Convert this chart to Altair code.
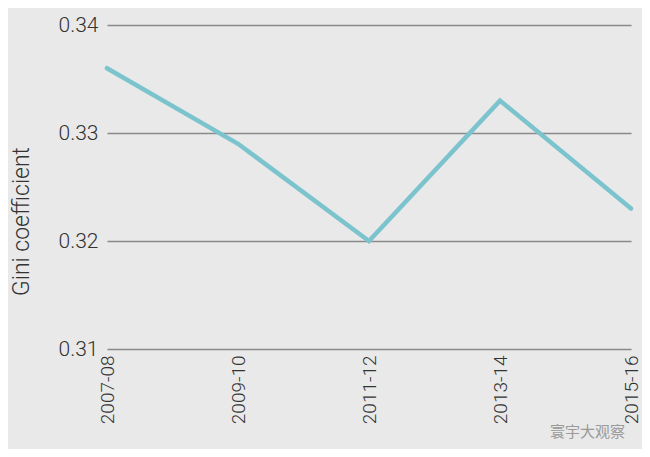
import altair as alt
import pandas as pd

periods = ["2007-08", "2009-10", "2011-12", "2013-14", "2015-16"]
gini = [0.336, 0.329, 0.320, 0.333, 0.323]
y_ticks = [0.31, 0.32, 0.33, 0.34]

df = pd.DataFrame({"period": periods, "gini": gini})

FONT = "Roboto"

line = alt.Chart(df).mark_line(color="#7cc4cd", strokeWidth=4.5, strokeCap="round", strokeJoin="miter").encode(
    x=alt.X("period:N", sort=periods,
            scale=alt.Scale(type="point", padding=0),
            axis=alt.Axis(title=None, labelAngle=-90, labelPadding=6, ticks=False, domain=False,
                          grid=False, labelFontSize=19, labelFont=FONT, labelFontWeight=300,
                          labelColor="#333333")),
    y=alt.Y("gini:Q", scale=alt.Scale(domain=[0.31, 0.34], zero=False, nice=False),
            axis=alt.Axis(title="Gini coefficient", values=y_ticks, format=".2f",
                          ticks=False, domain=False, grid=True, gridColor="#8a8a8a", gridWidth=1.5,
                          labelFontSize=21, labelFont=FONT, labelFontWeight=300, labelColor="#333333",
                          labelPadding=9,
                          titleFontSize=23, titleFont=FONT, titleFontWeight=300, titleColor="#333333",
                          titleX=-86, titleY=196, titleAlign="center", titleBaseline="middle")),
)

chart = line.properties(
    width=524, height=324,
    autosize=alt.AutoSizeParams(type="none"),
    padding={"left": 99, "top": 17, "right": 11, "bottom": 100},
    background="#e9e9e9",
    title=alt.TitleParams("寰宇大观察", orient="bottom", anchor="end", frame="group",
                          font="Noto Sans CJK SC", fontSize=15, fontWeight="normal",
                          color="#9a9a9a", offset=1, dx=-6),
).configure_view(stroke=None)

chart.save("out.html", embed_options={"renderer": "svg", "actions": False})
